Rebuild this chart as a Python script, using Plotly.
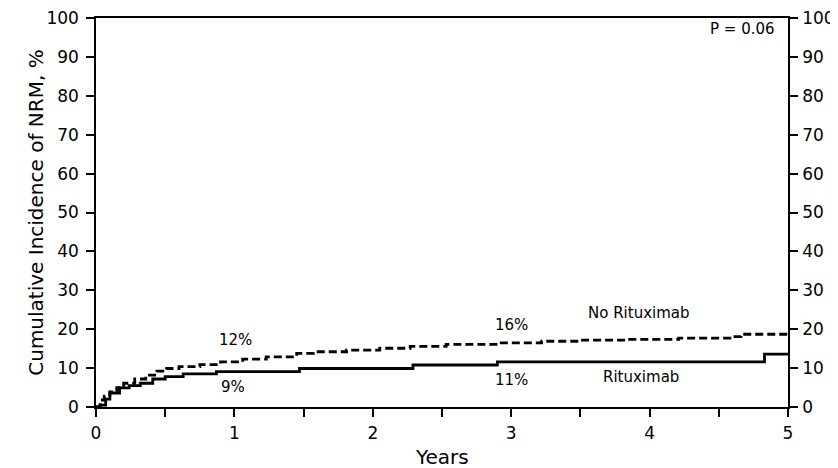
import plotly.graph_objects as go

# Rituximab (solid) step curve
ritux_years = [0, 0.03, 0.07, 0.10, 0.17, 0.24, 0.32, 0.41, 0.50, 0.63, 0.87, 1.47, 2.29, 2.90, 4.83, 5.0]
ritux_pct   = [0, 0.5, 2.0, 3.6, 4.9, 5.5, 6.1, 7.2, 7.8, 8.5, 9.1, 9.9, 10.8, 11.6, 13.6, 13.6]

# No Rituximab (dashed) step curve
norit_years = [0, 0.03, 0.06, 0.10, 0.15, 0.20, 0.28, 0.36, 0.44, 0.51, 0.60, 0.75, 0.90, 1.06, 1.23, 1.45, 1.57, 1.81, 2.05, 2.27, 2.53, 2.89, 3.22, 3.50, 3.83, 4.21, 4.58, 4.66, 5.0]
norit_pct   = [0, 1.8, 2.8, 3.9, 5.0, 6.1, 7.2, 8.2, 9.2, 9.9, 10.4, 10.9, 11.6, 12.3, 12.9, 13.8, 14.2, 14.6, 15.1, 15.6, 16.1, 16.5, 16.9, 17.2, 17.4, 17.7, 18.1, 18.7, 18.8]

x_ticks = [0, 1, 2, 3, 4, 5]
y_ticks = [0, 10, 20, 30, 40, 50, 60, 70, 80, 90, 100]

FONT = "DejaVu Sans"

fig = go.Figure()
fig.add_trace(go.Scatter(x=norit_years, y=norit_pct, mode="lines", line_shape="hv",
                         line=dict(color="black", width=2.8, dash="8px,4px"), showlegend=False))
fig.add_trace(go.Scatter(x=ritux_years, y=ritux_pct, mode="lines", line_shape="hv",
                         line=dict(color="black", width=2.8), showlegend=False))
# invisible trace to show right axis
fig.add_trace(go.Scatter(x=[0], y=[0], yaxis="y2", mode="markers",
                         marker=dict(opacity=0), showlegend=False, hoverinfo="skip"))

annotations = [
    dict(x=1.01, y=17.2, text="12%"),
    dict(x=0.99, y=5.2, text="9%"),
    dict(x=3.0, y=21.1, text="16%"),
    dict(x=3.0, y=6.9, text="11%"),
    dict(x=3.92, y=24.1, text="No Rituximab"),
    dict(x=3.94, y=7.8, text="Rituximab"),
]
for a in annotations:
    fig.add_annotation(x=a["x"], y=a["y"], text=a["text"], showarrow=False,
                       font=dict(family=FONT, size=15, color="black"))
fig.add_annotation(x=4.92, y=97.2, text="P = 0.06", showarrow=False, xanchor="right",
                   font=dict(family=FONT, size=15, color="black"))

# axis titles as paper annotations
fig.add_annotation(xref="paper", yref="paper", x=-0.108, y=0.5, text="Cumulative Incidence of NRM, %",
                   textangle=-90, showarrow=False, font=dict(family=FONT, size=20, color="black"))
fig.add_annotation(xref="paper", yref="paper", x=0.5, y=-0.128, yanchor="middle", text="Years",
                   showarrow=False, font=dict(family=FONT, size=20, color="black"))

axis_common = dict(showgrid=False, zeroline=False, showline=True, linecolor="black",
                   linewidth=1.5, ticks="outside", ticklen=8, tickwidth=1.5, tickcolor="black",
                   automargin=False, ticklabeloverflow="allow",
                   tickfont=dict(family=FONT, size=17, color="black"))

fig.update_layout(
    width=830, height=460,
    margin=dict(l=88, r=50, t=10, b=61),
    plot_bgcolor="white", paper_bgcolor="white",
    xaxis=dict(range=[0, 5], tickvals=x_ticks, mirror=True, ticklabelstandoff=2,
               minor=dict(dtick=0.5, ticks="outside", ticklen=8, tickwidth=1.5, tickcolor="black"),
               **axis_common),
    yaxis=dict(range=[0, 100], tickvals=y_ticks, ticklabelstandoff=4, **axis_common),
    yaxis2=dict(range=[0, 100], tickvals=y_ticks, overlaying="y", side="right", anchor="x",
                ticklabelstandoff=1, **axis_common),
)

fig.write_html("out.html")
